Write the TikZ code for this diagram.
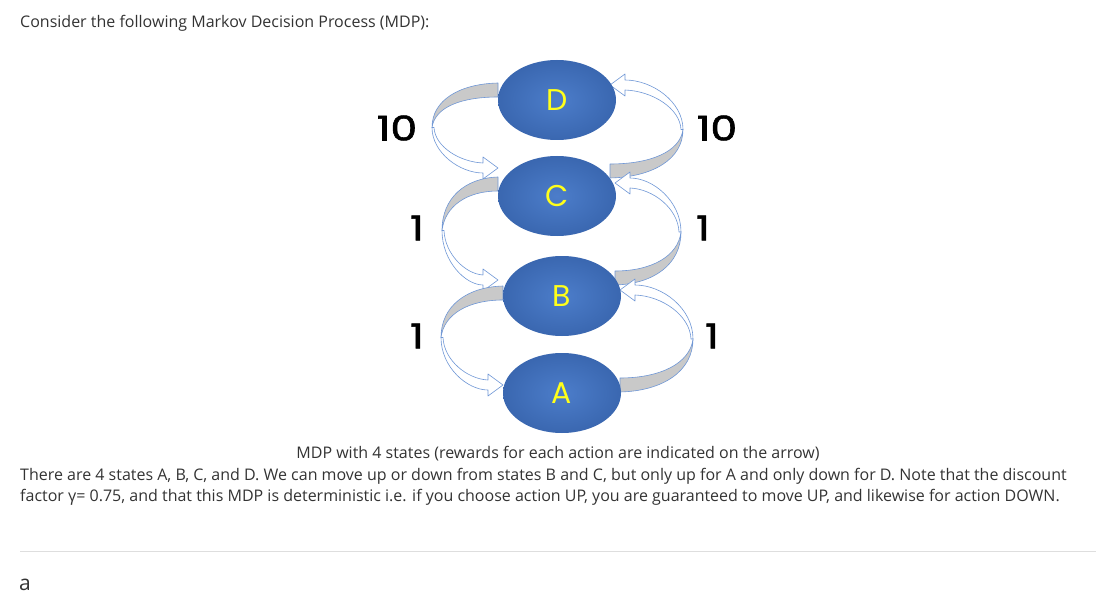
\documentclass[tikz,border=0pt]{standalone}
\usepackage{fontspec}
\setmainfont{Open Sans}
\newfontfamily\gothic{Poppins}
\newfontfamily\gothicnum[FakeBold=1.6]{Poppins}
\usetikzlibrary{calc,shapes.geometric}
\definecolor{txtgray}{HTML}{333333}
\definecolor{stateinner}{HTML}{4C7DCA}
\definecolor{stateouter}{HTML}{3A67B0}
\definecolor{stateletter}{HTML}{FFFF1A}
\definecolor{bandgray}{HTML}{C9C9C9}
\definecolor{bandline}{HTML}{6F97D6}
\definecolor{rulegray}{HTML}{DEDEDE}
\tikzset{
  state/.style={ellipse,minimum width=118pt,minimum height=80pt,inner sep=0pt,
    inner color=stateinner,outer color=stateouter,text=stateletter,
    font=\gothic\fontsize{30}{30}\selectfont},
  reward/.style={font=\gothicnum\fontsize{34}{34}\selectfont,xscale=1.25},
  body/.style={text=txtgray,font=\fontsize{16}{19}\selectfont,inner sep=0pt},
  band/.style={draw=bandline,line width=0.6pt,line join=round}
}
\newcommand\mdpbend[2]{%
  \path[band,fill=bandgray](0,0).. controls ({-0.58*#2},{0.01*#1}) and ({-#2},{0.2*#1}) ..({-#2},{0.5*#1+2})
    .. controls ({-#2+3},{0.28*#1}) and ({-0.55*#2},14) ..(0,14)--cycle;
  \path[band,fill=white]({-#2},{0.5*#1+2}).. controls ({-#2},{0.82*#1}) and ({-0.58*#2},{#1+5}) ..(-15,{#1+5})
    --(-15,{#1+11})--(0,#1)--(-15,{#1-11})--(-15,{#1-5})
    .. controls ({-0.58*#2},{#1-6}) and ({-#2+3},{0.75*#1}) ..({-#2+2},{0.5*#1+2})--cycle;
}

\begin{document}
\begin{tikzpicture}[x=1pt,y=-1pt]
\useasboundingbox(0,0)rectangle(1096,607);
\node[body,anchor=base west](intro)at(20,28){Consider the following Markov Decision Process (MDP):};

\path(557,100)coordinate(pD)(557,196)coordinate(pC)(562,296)coordinate(pB)(562,393)coordinate(pA);
\path(pD)+(-59,-17)coordinate(sDC)(pC)+(-59,-19)coordinate(sCB)(pB)+(-59,-10)coordinate(sBA);
\path(pC)+(53,-18)coordinate(sCD)(pB)+(53,-11)coordinate(sBC)(pA)+(58,-1)coordinate(sAB);

\begin{scope}[shift={(sDC)}]\mdpbend{85}{66}\end{scope}
\begin{scope}[shift={(sCB)}]\mdpbend{103}{56}\end{scope}
\begin{scope}[shift={(sBA)}]\mdpbend{99}{62}\end{scope}
\begin{scope}[shift={(sCD)},rotate=180]\mdpbend{93}{73}\end{scope}
\begin{scope}[shift={(sBC)},rotate=180]\mdpbend{102}{66}\end{scope}
\begin{scope}[shift={(sAB)},rotate=180]\mdpbend{102}{73}\end{scope}

\node[state](D)at(pD){D};
\node[state](C)at(pC){C};
\node[state](B)at(pB){B};
\node[state](A)at(pA){A};

\node[reward](rDC)at(397,128){10};
\node[reward](rCD)at(717,128){10};
\node[reward](rCB)at(417,228){1};
\node[reward](rBC)at(703,228){1};
\node[reward](rBA)at(417,336){1};
\node[reward](rAB)at(712,336){1};

\node[body,anchor=base](caption)at(558,458){MDP with 4 states (rewards for each action are indicated on the arrow)};
\node[body,anchor=base west](line1)at(20,480){There are 4 states A, B, C, and D. We can move up or down from states B and C, but only up for A and only down for D. Note that the discount};
\node[body,anchor=base west](line2)at(20,501){factor γ= 0.75, and that this MDP is deterministic i.e. if you choose action UP, you are guaranteed to move UP, and likewise for action DOWN.};
\draw[rulegray,line width=1pt](20,551)coordinate(ruleL)--(1096,551)coordinate(ruleR);
\node[body,anchor=base west,font=\fontsize{21}{24}\selectfont](answer)at(19,590){a};
\end{tikzpicture}
\end{document}
